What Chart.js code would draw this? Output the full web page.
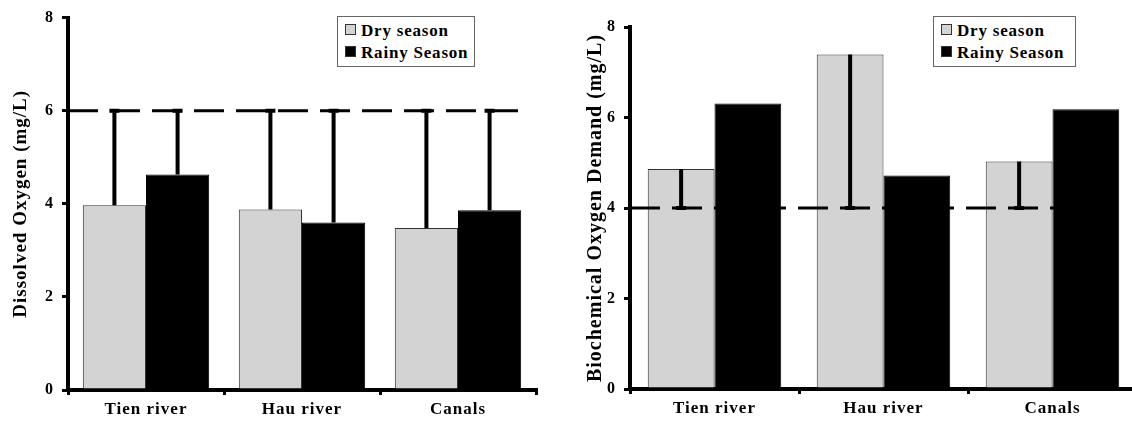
<!DOCTYPE html>
<html lang="en">
<head>
    <meta charset="UTF-8">
    <title>Dissolved Oxygen and BOD by season</title>
    <script src="https://cdn.jsdelivr.net/npm/chart.js"></script>
    <style>
        body {
            margin: 0;
            background: #fff;
            overflow: hidden;
        }

        .wrap {
            position: relative;
            width: 1132px;
            height: 421px;
            overflow: hidden;
        }

        .chart-box {
            position: absolute;
            top: 0;
            height: 421px;
        }

        .legend {
            position: absolute;
            border: 1px solid #666;
            background: #fff;
            font-family: 'Liberation Serif', 'Times New Roman', serif;
            font-weight: bold;
            font-size: 17px;
            letter-spacing: 0.8px;
            line-height: 22px;
            padding: 3px 6px 4px 7px;
            box-sizing: border-box;
        }

        .legend div {
            white-space: nowrap;
        }

        .legend span.mark {
            display: inline-block;
            width: 9px;
            height: 9px;
            border: 1px solid #333;
            margin-right: 5px;
            vertical-align: 1px;
        }
    </style>
</head>
<body>
    <div class="wrap">
        <div class="chart-box" style="left:0; width:560px;"><canvas id="doChart"></canvas></div>
        <div class="chart-box" style="left:560px; width:590px;"><canvas id="bodChart"></canvas></div>
        <div class="legend" id="doLegend" style="left:337px; top:16px; width:138px; height:51px;"></div>
        <div class="legend" id="bodLegend" style="left:933px; top:16px; width:143px; height:51px;"></div>
    </div>
    <script>
        // categories and values
        const sites = ['Tien river', 'Hau river', 'Canals'];
        const seasonNames = ['Dry season', 'Rainy Season'];
        const seasonColors = ['#d3d3d3', '#000000'];

        // dissolved oxygen (mg/L)
        const doDry = [3.97, 3.88, 3.48];
        const doRainy = [4.63, 3.6, 3.86];
        const doDryErrEnd = [6, 6, 6];
        const doRainyErrEnd = [6, 6, 6];
        const doLimit = 6;

        // biochemical oxygen demand (mg/L)
        const bodDry = [4.86, 7.39, 5.03];
        const bodRainy = [6.31, 4.72, 6.18];
        const bodDryErrEnd = [4, 4, 4];
        const bodRainyErrEnd = [null, null, null];
        const bodLimit = 4;

        const yTicks = [0, 2, 4, 6, 8];

        Chart.defaults.font.family = "'Liberation Serif', 'Times New Roman', serif";
        Chart.defaults.font.weight = 'bold';
        Chart.defaults.color = '#000';

        // wider letters like the original print
        const spacingPlugin = {
            id: 'spacing',
            beforeDraw(chart) {
                chart.ctx.letterSpacing = '1px';
            }
        };

        // dashed guideline at the standard value
        const limitLine = {
            id: 'limitLine',
            afterDatasetsDraw(chart, args, opts) {
                const { ctx, chartArea, scales } = chart;
                const y = scales.y.getPixelForValue(opts.value);
                ctx.save();
                ctx.letterSpacing = '0px';
                ctx.strokeStyle = '#000';
                ctx.lineWidth = 3;
                ctx.setLineDash([30, 12]);
                ctx.beginPath();
                ctx.moveTo(chartArea.left, y);
                ctx.lineTo(chartArea.right - opts.trimEnd, y);
                ctx.stroke();
                ctx.restore();
            }
        };

        // one-sided error bars
        const errorBars = {
            id: 'errorBars',
            afterDatasetsDraw(chart) {
                const { ctx, scales } = chart;
                ctx.save();
                ctx.strokeStyle = '#000';
                ctx.lineWidth = 4;
                ctx.setLineDash([]);
                chart.data.datasets.forEach((ds, i) => {
                    const meta = chart.getDatasetMeta(i);
                    meta.data.forEach((bar, j) => {
                        const end = ds.errEnd[j];
                        if (end == null) return;
                        const y2 = scales.y.getPixelForValue(end);
                        ctx.beginPath();
                        ctx.moveTo(bar.x, bar.y);
                        ctx.lineTo(bar.x, y2);
                        ctx.moveTo(bar.x - 5, y2);
                        ctx.lineTo(bar.x + 5, y2);
                        ctx.stroke();
                    });
                });
                ctx.restore();
            }
        };

        function makeChart(id, dry, rainy, dryErr, rainyErr, limit, cfg) {
            const ctx = document.getElementById(id).getContext('2d');
            return new Chart(ctx, {
                type: 'bar',
                data: {
                    labels: sites,
                    datasets: [
                        {
                            label: seasonNames[0],
                            data: dry,
                            errEnd: dryErr,
                            backgroundColor: seasonColors[0],
                            borderColor: '#333',
                            borderWidth: 1
                        },
                        {
                            label: seasonNames[1],
                            data: rainy,
                            errEnd: rainyErr,
                            backgroundColor: seasonColors[1],
                            borderColor: '#000',
                            borderWidth: 1
                        }
                    ]
                },
                options: {
                    responsive: true,
                    maintainAspectRatio: false,
                    animation: false,
                    layout: { padding: cfg.padding },
                    datasets: {
                        bar: {
                            categoryPercentage: cfg.catPct,
                            barPercentage: 1.0
                        }
                    },
                    plugins: {
                        legend: { display: false },
                        tooltip: { enabled: false },
                        limitLine: { value: limit, trimEnd: cfg.trimEnd }
                    },
                    scales: {
                        x: {
                            afterFit(scale) { scale.height = cfg.xHeight; },
                            grid: {
                                drawOnChartArea: false,
                                color: '#000',
                                lineWidth: 3,
                                tickLength: 5
                            },
                            border: { color: '#000', width: 4 },
                            ticks: {
                                font: { size: 17, weight: 'bold' },
                                padding: 4
                            }
                        },
                        y: {
                            min: 0,
                            max: 8,
                            afterFit(scale) { scale.width = cfg.yWidth; },
                            afterBuildTicks(scale) {
                                scale.ticks = yTicks.map(v => ({ value: v }));
                            },
                            grid: {
                                drawOnChartArea: false,
                                color: '#000',
                                lineWidth: 3,
                                tickLength: 6
                            },
                            border: { color: '#000', width: 4 },
                            ticks: {
                                font: { size: 16, weight: 'bold' },
                                padding: 8
                            },
                            title: {
                                display: true,
                                text: cfg.title,
                                font: { size: cfg.titleSize, weight: 'bold' },
                                padding: { top: cfg.titlePad, bottom: 0 }
                            }
                        }
                    }
                },
                plugins: [spacingPlugin, limitLine, errorBars]
            });
        }

        const doChart = makeChart('doChart', doDry, doRainy, doDryErrEnd, doRainyErrEnd, doLimit, {
            title: 'Dissolved Oxygen (mg/L)',
            titleSize: 19,
            titlePad: 10,
            padding: { top: 15, right: 24, left: 0, bottom: 0 },
            yWidth: 68,
            xHeight: 31,
            catPct: 0.81,
            trimEnd: 13
        });

        const bodChart = makeChart('bodChart', bodDry, bodRainy, bodDryErrEnd, bodRainyErrEnd, bodLimit, {
            title: 'Biochemical Oxygen Demand (mg/L)',
            titleSize: 20,
            titlePad: 24,
            padding: { top: 27, right: 13, left: 0, bottom: 0 },
            yWidth: 70,
            xHeight: 32,
            catPct: 0.79,
            trimEnd: 20
        });

        // html legend boxes built from the datasets
        function buildLegend(elId, chart) {
            const box = document.getElementById(elId);
            chart.data.datasets.forEach(ds => {
                const row = document.createElement('div');
                const mark = document.createElement('span');
                mark.className = 'mark';
                mark.style.background = ds.backgroundColor;
                row.appendChild(mark);
                row.appendChild(document.createTextNode(ds.label));
                box.appendChild(row);
            });
        }

        buildLegend('doLegend', doChart);
        buildLegend('bodLegend', bodChart);
    </script>
</body>
</html>
